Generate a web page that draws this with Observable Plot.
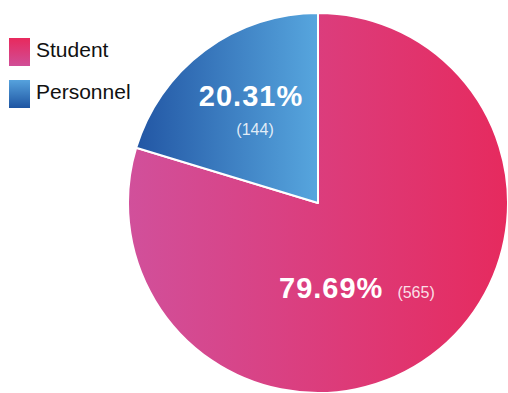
<!DOCTYPE html>
<html><head><meta charset="utf-8">
<script src="https://cdn.jsdelivr.net/npm/d3@7"></script>
<script src="https://cdn.jsdelivr.net/npm/@observablehq/plot@0.6"></script>
<style>
body{margin:0;background:#fff;font-family:"Liberation Sans",Arial,Helvetica,sans-serif;}
#wrap{position:relative;width:508px;height:393px;overflow:hidden}
.legend{position:absolute;left:9px;top:38px}
.item{display:flex;align-items:center;height:28px;margin-bottom:14px}
.sw{width:21px;height:28px;margin-right:6px}
.lab{font-size:21px;color:#111;line-height:28px;position:relative;top:-2px}
</style></head><body><div id="wrap"></div>
<script>
const categories = ["Student", "Personnel"];
const counts = [565, 144];
const percentLabels = ["79.69%", "20.31%"];
const countLabels = ["(565)", "(144)"];
// gradient colours per slice: [left, right]
const sliceGradients = [["#d1509b", "#e62a5e"], ["#2256a4", "#57a6de"]];
// legend swatch gradients: [top, bottom]
const legendGradients = [["#e8295d", "#d04e97"], ["#56a2dd", "#1e55a2"]];

const W = 508, H = 393, R = 190, cx = 318, cy = 203;

const rows = categories.map((c, i) => ({category: c, count: counts[i], pct: percentLabels[i], cnt: countLabels[i], i}));
const arcs = d3.pie().sort(null).value(d => d.count)(rows);
const arcGen = d3.arc().innerRadius(0).outerRadius(R);

// label layout: radius fraction and angle shift (deg) relative to slice mid-angle
const labelLayout = [{r: 0.5, shift: 12.4}, {r: 0.605, shift: 0}];
const labelRows = arcs.map((a, i) => {
  const mid = (a.startAngle + a.endAngle) / 2 + labelLayout[i].shift * Math.PI / 180;
  const r = labelLayout[i].r * R;
  return {...a.data, lx: cx + r * Math.sin(mid), ly: cy - r * Math.cos(mid)};
});

function pieMark(index, scales, values, dimensions, context) {
  const svgNS = "http://www.w3.org/2000/svg";
  const g = document.createElementNS(svgNS, "g");
  const defs = document.createElementNS(svgNS, "defs");
  sliceGradients.forEach((cols, i) => {
    const lg = document.createElementNS(svgNS, "linearGradient");
    lg.setAttribute("id", "sg" + i);
    lg.setAttribute("x1", "0"); lg.setAttribute("x2", "1");
    lg.setAttribute("y1", "0"); lg.setAttribute("y2", "0");
    cols.forEach((c, k) => {
      const s = document.createElementNS(svgNS, "stop");
      s.setAttribute("offset", k ? "1" : "0");
      s.setAttribute("stop-color", c);
      lg.appendChild(s);
    });
    defs.appendChild(lg);
  });
  g.appendChild(defs);
  arcs.forEach((a, i) => {
    const p = document.createElementNS(svgNS, "path");
    p.setAttribute("d", arcGen(a));
    p.setAttribute("transform", `translate(${cx},${cy})`);
    p.setAttribute("fill", `url(#sg${i})`);
    p.setAttribute("stroke", "#fff");
    p.setAttribute("stroke-width", "2");
    p.setAttribute("stroke-linejoin", "round");
    g.appendChild(p);
  });
  return g;
}

const student = labelRows.filter(d => d.i === 0);
const personnel = labelRows.filter(d => d.i === 1);
const pctStyle = {fill: "#fff", fontSize: 29, fontWeight: "bold"};
const cntStyle = {fill: "#fff", fillOpacity: 0.85, fontSize: 16};

const chart = Plot.plot({
  width: W, height: H, margin: 0,
  x: {type: "identity", axis: null}, y: {type: "identity", axis: null},
  style: {fontFamily: '"Liberation Sans", Arial, Helvetica, sans-serif', background: "transparent"},
  marks: [
    pieMark,
    Plot.text(student, {x: "lx", y: "ly", text: "pct", textAnchor: "end", dx: 26, dy: -1, ...pctStyle}),
    Plot.text(student, {x: "lx", y: "ly", text: "cnt", textAnchor: "start", dx: 40, dy: 3, ...cntStyle}),
    Plot.text(personnel, {x: "lx", y: "ly", text: "pct", dx: 1, dy: -14, ...pctStyle}),
    Plot.text(personnel, {x: "lx", y: "ly", text: "cnt", dx: 5, dy: 19, ...cntStyle})
  ]
});
// slightly open tracking on the percentage labels
d3.select(chart).selectAll("text").filter(function() { return /%$/.test(this.textContent); })
  .attr("letter-spacing", "1px");

const wrap = document.getElementById("wrap");
wrap.appendChild(chart);
const legend = document.createElement("div");
legend.className = "legend";
categories.forEach((c, i) => {
  const item = document.createElement("div");
  item.className = "item";
  const sw = document.createElement("div");
  sw.className = "sw";
  sw.style.background = `linear-gradient(to bottom, ${legendGradients[i][0]}, ${legendGradients[i][1]})`;
  const lab = document.createElement("span");
  lab.className = "lab";
  lab.textContent = c;
  item.appendChild(sw); item.appendChild(lab);
  legend.appendChild(item);
});
wrap.appendChild(legend);
</script>
</body></html>
